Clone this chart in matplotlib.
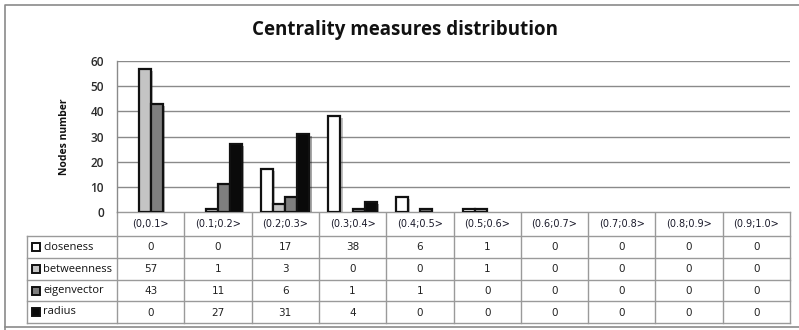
import matplotlib
matplotlib.use("Agg")
import matplotlib.pyplot as plt
import matplotlib.patheffects as pe
from matplotlib.patches import Rectangle
import numpy as np

categories = ["(0,0.1>", "(0.1;0.2>", "(0.2;0.3>", "(0.3;0.4>", "(0.4;0.5>",
              "(0.5;0.6>", "(0.6;0.7>", "(0.7;0.8>", "(0.8;0.9>", "(0.9;1.0>"]
series_names = ["closeness", "betweenness", "eigenvector", "radius"]
closeness = [0, 0, 17, 38, 6, 1, 0, 0, 0, 0]
betweenness = [57, 1, 3, 0, 0, 1, 0, 0, 0, 0]
eigenvector = [43, 11, 6, 1, 1, 0, 0, 0, 0, 0]
radius = [0, 27, 31, 4, 0, 0, 0, 0, 0, 0]
series_values = [closeness, betweenness, eigenvector, radius]
series_colors = ["#ffffff", "#c4c4c4", "#7f7f7f", "#0a0a0a"]
y_ticks = [0, 10, 20, 30, 40, 50, 60]

W, H = 799, 330
fig = plt.figure(figsize=(W / 100, H / 100), dpi=100)
fig.patch.set_facecolor("white")

# pixel-space overlay for frame and data table
ov = fig.add_axes([0, 0, 1, 1])
ov.set_xlim(0, W)
ov.set_ylim(H, 0)
ov.axis("off")

# plot area in pixels
px_l, px_r, px_t, px_b = 117, 790, 61, 212
ax = fig.add_axes([px_l / W, 1 - px_b / H, (px_r - px_l) / W, (px_b - px_t) / H])
n = len(categories)
ax.set_xlim(0, n)
ax.set_ylim(0, 60)
ax.set_yticks(y_ticks)
ax.set_xticks([])
ax.tick_params(axis="y", length=0, pad=9.5, labelsize=8.5, labelcolor="#2a2a2a")
for lab in ax.get_yticklabels():
    lab.set_family("Open Sans")
    lab.set_fontweight("semibold")
ax.grid(axis="y", color="#8a8a8a", linewidth=1.0)
ax.set_axisbelow(True)
for s in ["top", "right", "bottom"]:
    ax.spines[s].set_visible(False)
ax.spines["left"].set_color("#8a8a8a")
ax.spines["left"].set_linewidth(1.0)
ax.set_facecolor("white")

bw = 0.18
start = (1 - 4 * bw) / 2
x = np.arange(n)
shadow = [pe.SimplePatchShadow(offset=(1.5, -1.5), alpha=0.35), pe.Normal()]
for i, (vals, col) in enumerate(zip(series_values, series_colors)):
    bars = ax.bar(x + start + i * bw, vals, width=bw, align="edge",
                  color=col, edgecolor="#111111", linewidth=1.6, zorder=3)
    for b, v in zip(bars, vals):
        if v == 0:
            b.set_visible(False)
        else:
            b.set_path_effects(shadow)

ax.set_ylabel("Nodes number", fontsize=7.5, fontweight="bold", color="#111111",
              family="Open Sans")
ax.yaxis.set_label_coords((70 - px_l) / (px_r - px_l), 0.5)

# outer chart frame
ov.plot([5, 5, W + 2], [H + 2, 5, 5], color="#8a8a8a", lw=1.2)
ov.plot([5, W + 2], [327, 327], color="#8a8a8a", lw=1.2)

# title
ov.text(405, 30, "Centrality measures distribution", ha="center", va="center",
        fontsize=13.5, fontweight="bold", family="Open Sans", color="#111111")

# data table
line_c = "#9a9a9a"
col_w = (px_r - px_l) / n
row_edges = [212, 236, 258, 280, 301, 323]
leg_l = 27
ov.plot([px_l, px_r], [212, 212], color=line_c, lw=1.0)
for y in row_edges[1:]:
    ov.plot([leg_l, px_r], [y, y], color=line_c, lw=1.0)
for k in range(n + 1):
    xx = px_l + k * col_w
    ov.plot([xx, xx], [212, 323], color=line_c, lw=1.0)
ov.plot([leg_l, leg_l], [236, 323], color=line_c, lw=1.0)

# category labels
for k, c in enumerate(categories):
    ov.text(px_l + (k + 0.5) * col_w, 224, c, ha="center", va="center",
            fontsize=7, family="DejaVu Sans", color="#1a1a2a")

# series rows
for r, (name, vals, col) in enumerate(zip(series_names, series_values, series_colors)):
    yc = (row_edges[r + 1] + row_edges[r + 2]) / 2
    ov.add_patch(Rectangle((32, yc - 4), 8, 8, facecolor=col,
                           edgecolor="#111111", lw=1.4))
    ov.text(43, yc, name, ha="left", va="center", fontsize=8,
            family="Open Sans", color="#111111")
    for k, v in enumerate(vals):
        ov.text(px_l + (k + 0.5) * col_w, yc + 0.5, str(v), ha="center",
                va="center", fontsize=7.5, family="DejaVu Sans", color="#222222")

fig.savefig("out.png", dpi=100)
